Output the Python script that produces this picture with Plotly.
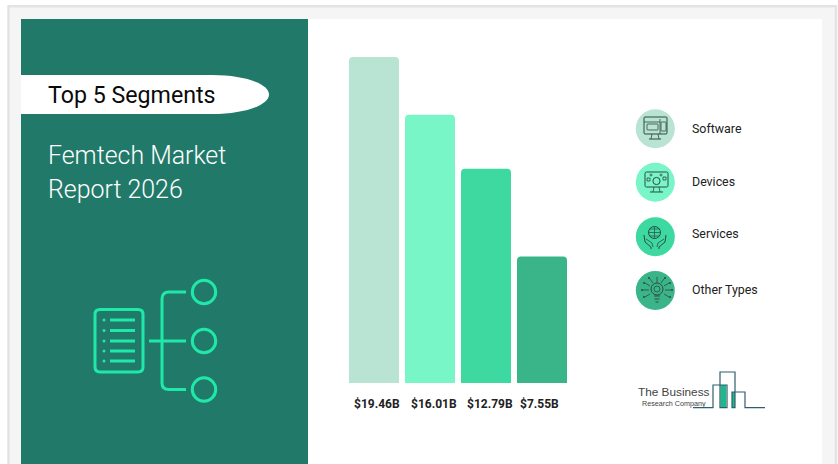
import plotly.graph_objects as go

W, H = 838, 464
segments = ["Software", "Devices", "Services", "Other Types"]
values = [19.46, 16.01, 12.79, 7.55]
value_labels = ["$19.46B", "$16.01B", "$12.79B", "$7.55B"]
bar_colors = ["#B9E3D3", "#78F6C8", "#3DD9A1", "#3AB58A"]
label_shifts = [3, 4, 4, -3]

TEAL = "#217A69"
MINT = "#1FE8A8"
INK = "#2C4A44"


def px(x):
    return x / W


def py(y):
    return 1 - y / H


def pt(x, y):
    return f"{px(x):.5f},{py(y):.5f}"


shapes = []


def rect(x0, y0, x1, y1, fill, line=None, lw=0):
    shapes.append(dict(type="rect", xref="paper", yref="paper", x0=px(x0), x1=px(x1), y0=py(y0), y1=py(y1),
                       fillcolor=fill, line=dict(color=line or fill, width=lw), layer="below"))


def circle(cx, cy, r, fill="rgba(0,0,0,0)", line=None, lw=0):
    shapes.append(dict(type="circle", xref="paper", yref="paper", x0=px(cx - r), x1=px(cx + r), y0=py(cy + r),
                       y1=py(cy - r), fillcolor=fill, line=dict(color=line or fill, width=lw), layer="below"))


def path(cmds, line, lw, fill="rgba(0,0,0,0)"):
    out = []
    for c in cmds:
        if c == "Z":
            out.append("Z")
        else:
            k = c[0]
            coords = c[1:]
            out.append(k + " ".join(pt(coords[i], coords[i + 1]) for i in range(0, len(coords), 2)))
    shapes.append(dict(type="path", xref="paper", yref="paper", path=" ".join(out), fillcolor=fill,
                       line=dict(color=line, width=lw), layer="below"))


def poly(points, line, lw):
    cmds = [("M", *points[0])] + [("L", *p) for p in points[1:]]
    path(cmds, line, lw)


def round_rect(x0, y0, x1, y1, r, line, lw):
    path([("M", x0 + r, y0), ("L", x1 - r, y0), ("Q", x1, y0, x1, y0 + r), ("L", x1, y1 - r), ("Q", x1, y1, x1 - r, y1),
          ("L", x0 + r, y1), ("Q", x0, y1, x0, y1 - r), ("L", x0, y0 + r), ("Q", x0, y0, x0 + r, y0), "Z"], line, lw)


# frame and panels
rect(8.5, 6.2, 836, 480, "#F5F5F5", "#E3E3E3", 2.5)
rect(21, 19, 822, 480, "#FFFFFF")
rect(21, 19, 308, 480, TEAL)

# white pill
path([("M", 21, 75), ("L", 212, 75), ("C", 245, 75, 269, 84, 269, 94.5), ("C", 269, 105, 245, 114, 212, 114),
      ("L", 21, 114), "Z"], "#FFFFFF", 0, "#FFFFFF")

# main icon
round_rect(95, 309.5, 143, 372, 5, MINT, 3)
for yy in [320, 330.5, 341, 351, 361]:
    poly([(110, yy), (135, yy)], MINT, 3)
    circle(104, yy, 1.5, MINT)
poly([(149, 341), (186, 341)], MINT, 3)
path([("M", 186, 292), ("L", 169, 292), ("Q", 162, 292, 162, 299), ("L", 162, 383), ("Q", 162, 389.5, 169, 389.5),
      ("L", 186, 389.5)], MINT, 3)
for yy in [292, 341, 389.5]:
    circle(204, yy, 11.7, "rgba(0,0,0,0)", MINT, 3)

# legend discs
disc_y = [128.7, 182.2, 236.7, 290.5]
for yy, col in zip(disc_y, bar_colors):
    circle(655.3, yy, 19.5, col)

# software icon
round_rect(644, 117, 667, 134, 1, INK, 1)
poly([(644, 122), (660, 122)], INK, 0.8)
poly([(660, 119), (660, 134)], INK, 0.8)
round_rect(647, 124, 658, 130, 0.5, INK, 0.8)
round_rect(661, 122, 666, 131, 0.5, INK, 0.8)
poly([(652, 134), (651, 139)], INK, 0.8)
poly([(658, 134), (659, 139)], INK, 0.8)
poly([(649, 139), (661, 139)], INK, 1)

# devices icon
round_rect(645, 172, 668, 187, 1.5, INK, 1)
circle(656.5, 181, 3.6, "rgba(0,0,0,0)", INK, 1)
circle(651, 175, 1, "rgba(0,0,0,0)", INK, 0.8)
circle(661, 175, 1, "rgba(0,0,0,0)", INK, 0.8)
rect(647, 178, 650, 181, "rgba(0,0,0,0)", INK, 0.8)
rect(663, 177, 666, 180, "rgba(0,0,0,0)", INK, 0.8)
poly([(654, 187), (653, 192)], INK, 0.8)
poly([(659, 187), (660, 192)], INK, 0.8)
poly([(650, 192), (663, 192)], INK, 1)

# services icon
circle(654.5, 232.5, 6, "rgba(0,0,0,0)", INK, 1)
poly([(648.5, 232.5), (660.5, 232.5)], INK, 0.7)
poly([(654.5, 226.5), (654.5, 238.5)], INK, 0.7)
poly([(649.5, 229), (659.5, 229)], INK, 0.7)
poly([(649.5, 236), (659.5, 236)], INK, 0.7)
poly([(644, 235), (645, 242), (651, 247), (651, 249)], INK, 1)
poly([(666, 235), (665, 242), (659, 247), (659, 249)], INK, 1)
poly([(646, 239), (652, 243), (653, 247)], INK, 0.8)
poly([(664, 239), (658, 243), (657, 247)], INK, 0.8)

# other types icon
circle(657, 289, 6, "rgba(0,0,0,0)", INK, 1)
circle(657, 289, 3, "rgba(0,0,0,0)", INK, 0.8)
poly([(654, 296), (660, 296)], INK, 1)
poly([(654.5, 299), (659.5, 299)], INK, 1)
poly([(655.5, 302), (658.5, 302)], INK, 1)
for sx in (-1, 1):
    poly([(657 + sx * 7, 286), (657 + sx * 12, 283)], INK, 0.8)
    poly([(657 + sx * 8, 290), (657 + sx * 14, 290)], INK, 0.8)
    poly([(657 + sx * 7, 294), (657 + sx * 12, 297)], INK, 0.8)
    poly([(657 + sx * 4, 283), (657 + sx * 7, 279)], INK, 0.8)
    circle(657 + sx * 13, 283, 1, INK)
    circle(657 + sx * 15, 290, 1, INK)
    circle(657 + sx * 13, 297, 1, INK)
    circle(657 + sx * 8, 278, 1, INK)
poly([(657, 283), (657, 277)], INK, 0.8)

# logo
LOGO = "#2F5F6E"
rect(720.5, 385, 726, 407.5, "#1EB98A")
rect(732, 392, 735, 407.5, "#1EB98A")
poly([(693, 407.7), (713, 407.7), (713, 385), (727, 385), (727, 407.7), (720, 407.7), (720, 372), (735, 372),
      (735, 407.7), (732, 407.7), (732, 392), (745, 392), (745, 407.7), (765, 407.7)], LOGO, 1.2)

annotations = []


def text(x, y, s, size, color, weight=400, family="Roboto", anchor="left"):
    annotations.append(dict(xref="paper", yref="paper", x=px(x), y=py(y), text=s, showarrow=False, xanchor=anchor,
                            yanchor="middle", borderpad=0, borderwidth=0,
                            font=dict(family=family, size=size, color=color, weight=weight)))


text(48, 94.5, "Top 5 Segments", 23.2, "#0A0A0A")
text(48, 155.3, "Femtech Market", 24.9, "#FFFFFF", 300)
text(48, 189.3, "Report 2026", 24.9, "#FFFFFF", 300)
for seg, yy in zip(segments, [128, 181, 233.5, 289]):
    text(692, yy, seg, 12.4, "#222222")
text(638, 391.5, "The Business", 11.8, "#444444", 400, "Liberation Sans")
text(642, 403.8, "Research Company", 7.2, "#444444", 400, "Liberation Sans")

for i, (lab, sh) in enumerate(zip(value_labels, label_shifts)):
    annotations.append(dict(xref="x", yref="paper", x=i, y=py(403.5), text=lab, showarrow=False, xanchor="center",
                            yanchor="middle", xshift=sh, borderpad=0, borderwidth=0,
                            font=dict(family="Roboto", size=12, color="#222222", weight=700)))

fig = go.Figure(go.Bar(x=list(range(len(values))), y=values, marker=dict(color=bar_colors, cornerradius=4, line=dict(width=0)),
                       hoverinfo="skip"))
half = 25 / 56
fig.update_layout(
    width=W, height=H, margin=dict(l=0, r=0, t=0, b=0), paper_bgcolor="#FFFFFF", plot_bgcolor="rgba(0,0,0,0)",
    showlegend=False, bargap=6 / 56, shapes=shapes, annotations=annotations,
    xaxis=dict(domain=[px(349), px(567)], range=[-half, 3 + half], visible=False, fixedrange=True),
    yaxis=dict(domain=[py(383), py(57)], range=[0, max(values)], visible=False, fixedrange=True),
)
fig.write_html("out.html", config=dict(displayModeBar=False),
               post_script="document.body.style.margin='0';document.documentElement.style.overflow='hidden';")
